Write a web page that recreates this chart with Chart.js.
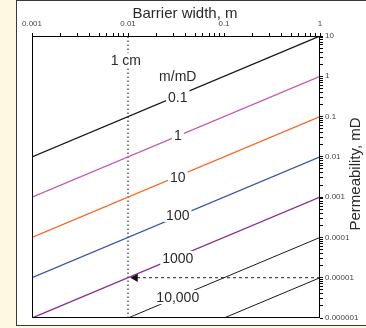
<!DOCTYPE html>
<html>
<head>
<meta charset="utf-8">
<title>Barrier width vs permeability</title>
<script src="https://cdn.jsdelivr.net/npm/chart.js@4.4.0/dist/chart.umd.min.js"></script>
<style>
    html, body { margin: 0; padding: 0; background: #fcf8e2; }
    #panel {
        position: absolute; left: 16px; top: 0; width: 400px; height: 326px;
        box-sizing: border-box; background: #fff; border: 1px solid #3a3a3a;
    }
    #chart { position: absolute; left: 0; top: 0; }
</style>
</head>
<body>
<div id="panel"></div>
<canvas id="chart" width="366" height="328"></canvas>
<script>
/* ── DATA ─────────────────────────────────────────────── */

var xTickValues = [0.001, 0.01, 0.1, 1];
var xTickLabels = ['0.001', '0.01', '0.1', '1'];
var yTickValues = [0.000001, 0.00001, 0.0001, 0.001, 0.01, 0.1, 1, 10];
var yTickLabels = ['0.000001', '0.00001', '0.0001', '0.001', '0.01', '0.1', '1', '10'];

// each m/mD line: start and end point (barrier width m, permeability mD)
var lineStartW = [0.001, 0.001, 0.001, 0.001, 0.001, 0.01, 0.1];
var lineStartK = [0.01, 0.001, 0.0001, 0.00001, 0.000001, 0.000001, 0.000001];
var lineEndW   = [1, 1, 1, 1, 1, 1, 1];
var lineEndK   = [10, 1, 0.1, 0.01, 0.001, 0.0001, 0.00001];

// labels sitting on the lines
var labelTexts = ['0.1', '1', '10', '100', '1000', '10,000', 'm/mD', '1 cm'];
var labelW     = [0.033, 0.033, 0.033, 0.033, 0.033, 0.033, 0.033, 0.0095];
var labelK     = [0.31, 0.035, 0.0032, 0.00036, 0.000031, 0.0000033, 1.02, 2.5];

// 1 cm marker and the read-off arrow
var markerW  = [0.01, 0.01];
var markerK  = [0.000001, 10];
var arrowW   = [1, 0.0119];
var arrowK   = [0.00001, 0.00001];

/* ── STYLE ────────────────────────────────────────────── */

var LINE_COLORS = ['#1a1a1a', '#c452b2', '#f7651f', '#3552ad', '#8b2a90', '#1a1a1a', '#1a1a1a'];
var LINE_WIDTHS = [1.3, 1.3, 1.3, 1.3, 1.3, 1, 1];
var FONT = '"Liberation Sans", Arial, sans-serif';

function decadeTicks(majors) {
    var out = [];
    for (var i = 0; i < majors.length - 1; i++) {
        for (var m = 1; m < 10; m++) out.push({ value: majors[i] * m });
    }
    out.push({ value: majors[majors.length - 1] });
    return out;
}

function majorLabel(values, labels, v) {
    for (var i = 0; i < values.length; i++) {
        if (Math.abs(v / values[i] - 1) < 1e-6) return labels[i];
    }
    return '';
}

var datasets = lineStartW.map(function(w, i) {
    return {
        data: [{ x: w, y: lineStartK[i] }, { x: lineEndW[i], y: lineEndK[i] }],
        borderColor: LINE_COLORS[i], borderWidth: LINE_WIDTHS[i],
        pointRadius: 0, showLine: true
    };
});

datasets.push({
    data: [{ x: markerW[0], y: markerK[0] }, { x: markerW[1], y: markerK[1] }],
    borderColor: '#555', borderWidth: 1.5, borderDash: [1.5, 2.5],
    pointRadius: 0, showLine: true
});

datasets.push({
    data: [{ x: arrowW[0], y: arrowK[0] }, { x: arrowW[1], y: arrowK[1] }],
    borderColor: '#222', borderWidth: 1, borderDash: [3, 3],
    pointRadius: [0, 5], pointStyle: 'triangle', rotation: -90,
    pointBackgroundColor: '#111', pointBorderColor: '#111', pointBorderWidth: 0,
    showLine: true
});

/* ── PLUGINS ──────────────────────────────────────────── */

var framePlugin = {
    id: 'frame',
    afterDatasetsDraw: function(chart) {
        var a = chart.chartArea, ctx = chart.ctx;
        ctx.save();
        ctx.strokeStyle = '#000';
        ctx.lineWidth = 1;
        ctx.strokeRect(a.left + 0.5, a.top + 0.5, a.right - a.left - 1, a.bottom - a.top - 1);
        ctx.restore();
    }
};

var labelPlugin = {
    id: 'lineLabels',
    afterDatasetsDraw: function(chart) {
        var ctx = chart.ctx, xs = chart.scales.x, ys = chart.scales.y;
        ctx.save();
        ctx.font = '14px ' + FONT;
        ctx.textAlign = 'center';
        ctx.textBaseline = 'middle';
        labelTexts.forEach(function(t, i) {
            var px = xs.getPixelForValue(labelW[i]);
            var py = ys.getPixelForValue(labelK[i]);
            var w = ctx.measureText(t).width;
            ctx.fillStyle = '#fff';
            ctx.fillRect(px - w / 2 - 2, py - 7, w + 4, 14);
            ctx.fillStyle = '#2a2a2a';
            ctx.fillText(t, px, py + 1);
        });

        // axis titles
        ctx.font = '15px ' + FONT;
        ctx.textBaseline = 'alphabetic';
        ctx.fillText('Barrier width, m', 185, 18);
        ctx.translate(360, 174);
        ctx.rotate(-Math.PI / 2);
        ctx.fillText('Permeability, mD', 0, 0);
        ctx.restore();
    }
};

/* ── CHART ────────────────────────────────────────────── */

new Chart(document.getElementById('chart'), {
    type: 'scatter',
    data: { datasets: datasets },
    options: {
        responsive: false, animation: false, devicePixelRatio: 1,
        layout: { padding: { left: 32, right: 0, top: 0, bottom: 10 } },
        plugins: { legend: { display: false }, tooltip: { enabled: false } },
        scales: {
            x: {
                type: 'logarithmic', position: 'top', min: 0.001, max: 1,
                afterBuildTicks: function(s) { s.ticks = decadeTicks(xTickValues); },
                afterFit: function(s) { s.height = 36; },
                grid: { drawOnChartArea: false, tickLength: 3, color: '#000' },
                border: { display: false },
                ticks: {
                    autoSkip: false, maxRotation: 0, padding: 4, color: '#444',
                    font: { family: FONT, size: 8 },
                    callback: function(v) { return majorLabel(xTickValues, xTickLabels, v); }
                }
            },
            y: {
                type: 'logarithmic', position: 'right', min: 0.000001, max: 10,
                afterBuildTicks: function(s) { s.ticks = decadeTicks(yTickValues); },
                afterFit: function(s) { s.width = 46; },
                grid: { drawOnChartArea: false, tickLength: 3, color: '#000' },
                border: { display: false },
                ticks: {
                    autoSkip: false, padding: 2, color: '#444',
                    font: { family: FONT, size: 8 },
                    callback: function(v) { return majorLabel(yTickValues, yTickLabels, v); }
                }
            }
        }
    },
    plugins: [framePlugin, labelPlugin]
});
</script>
</body>
</html>
